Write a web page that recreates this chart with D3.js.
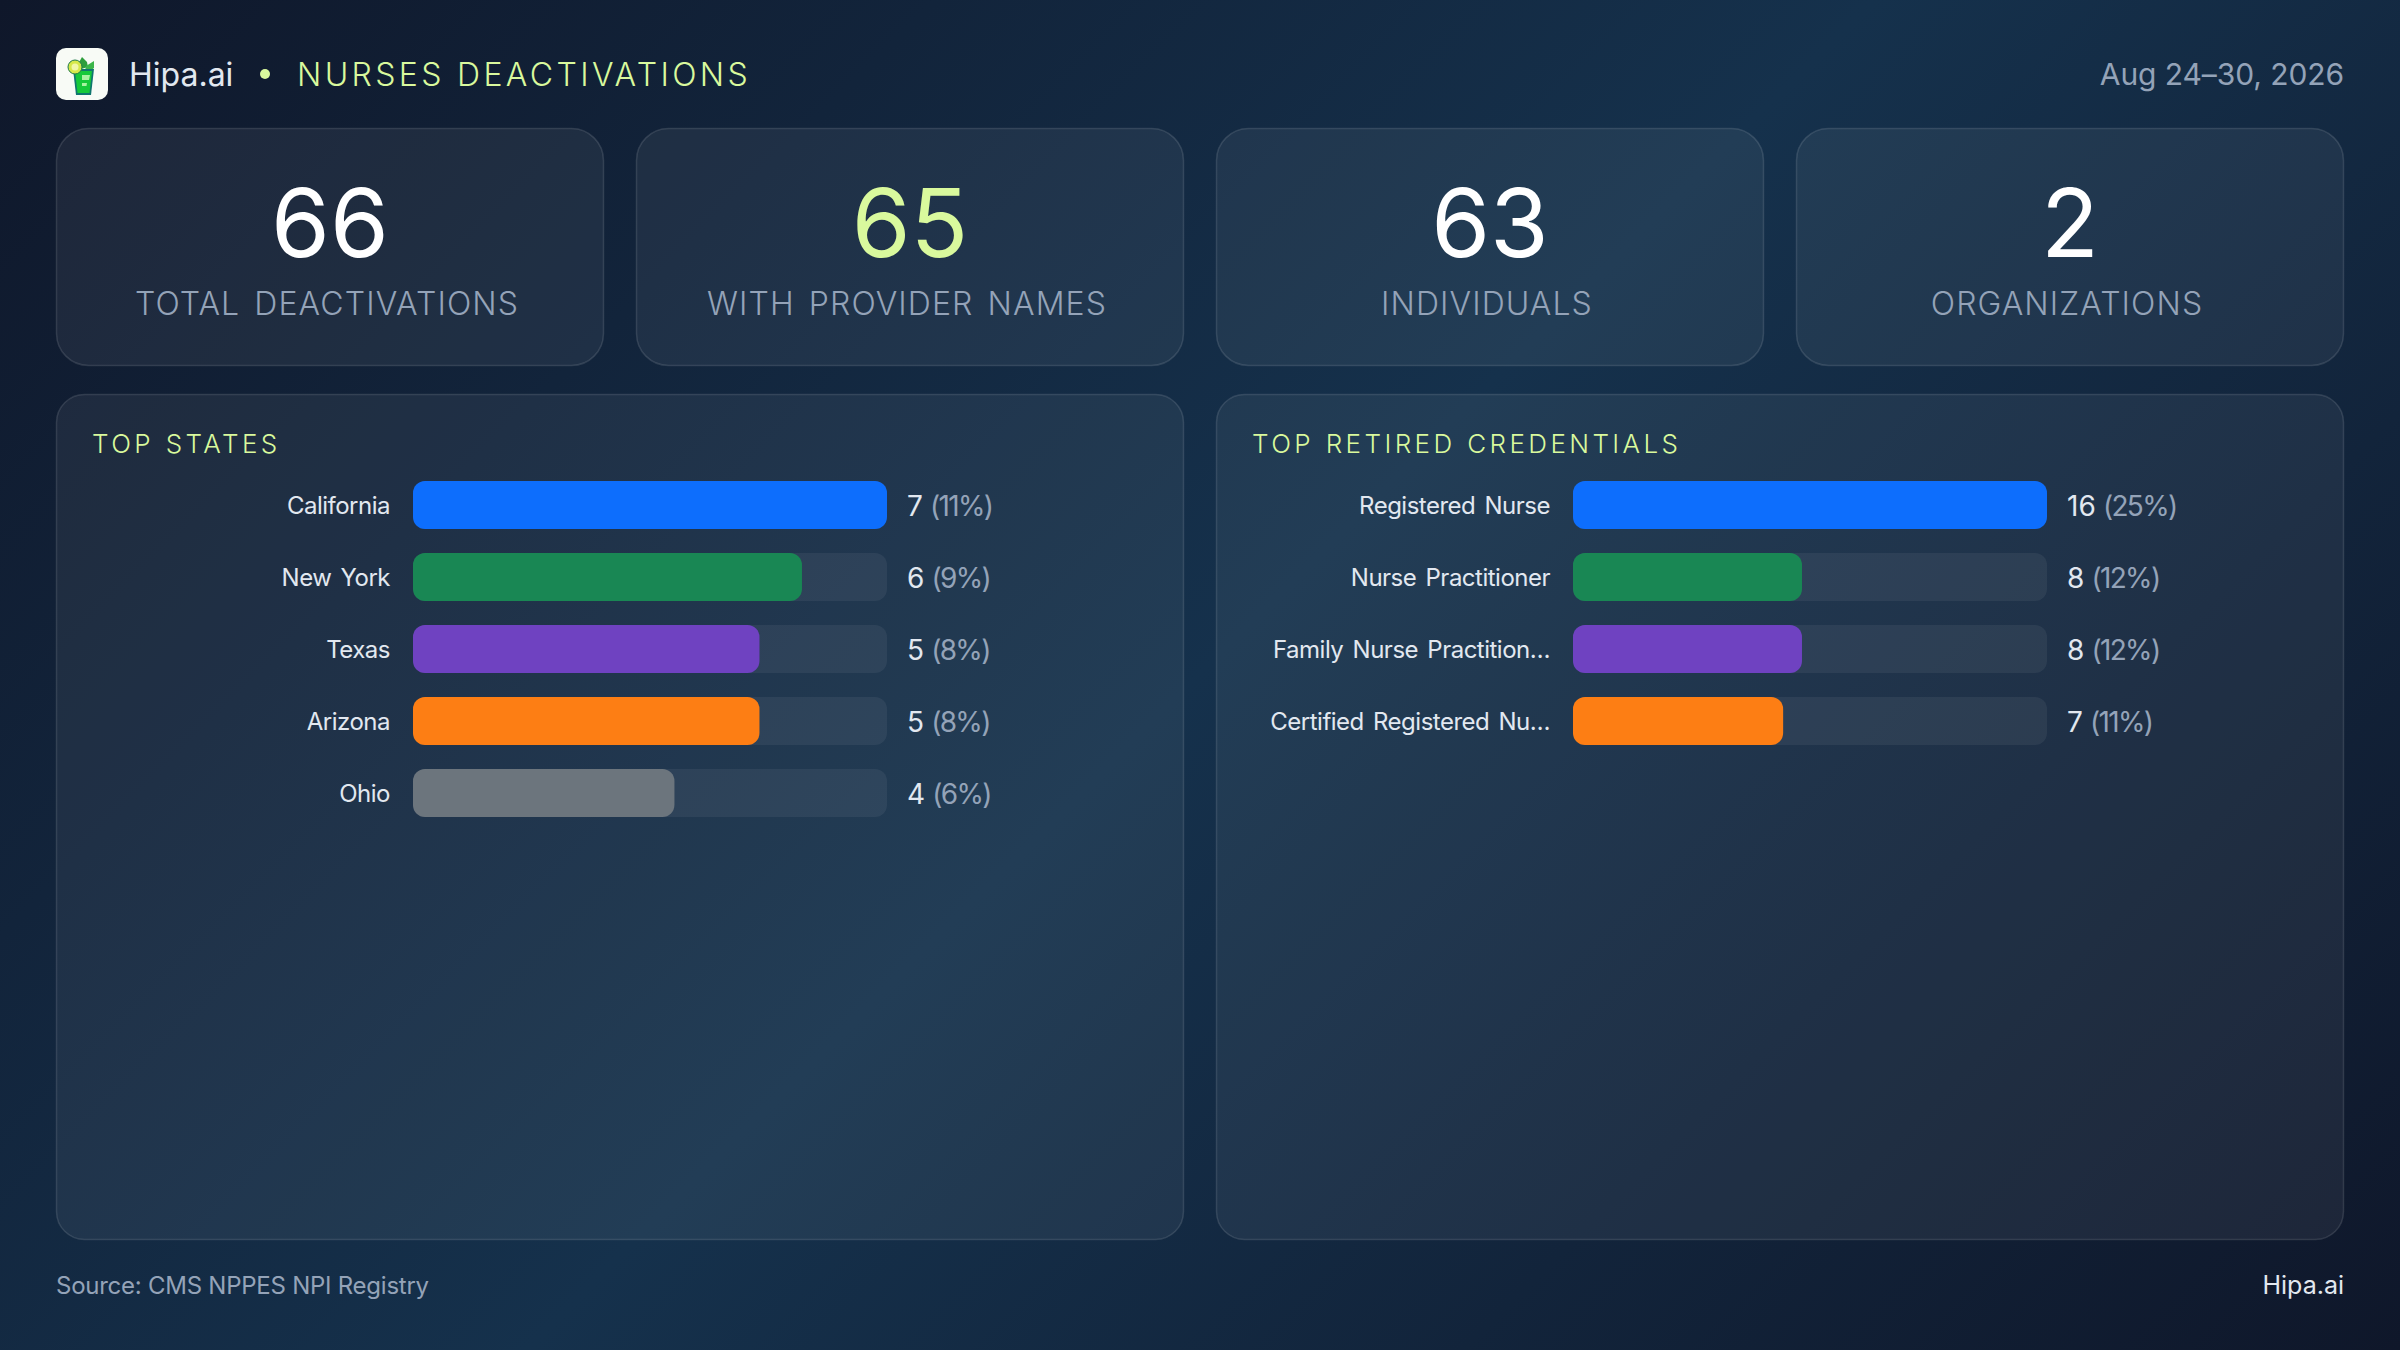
<!DOCTYPE html>
<html><head><meta charset="utf-8">
<script src="https://cdn.jsdelivr.net/npm/d3@7/dist/d3.min.js"></script>
<style>html,body{margin:0;padding:0;background:#0f1a2e;overflow:hidden}svg{display:block}text{font-family:Inter,"Liberation Sans",sans-serif;font-weight:400}.lt{font-weight:300}</style>
</head><body><div id="c"></div>
<script>
const statValues=[66,65,63,2];
const statLabels=["TOTAL DEACTIVATIONS","WITH PROVIDER NAMES","INDIVIDUALS","ORGANIZATIONS"];
const statColors=["#ffffff","#d9f99d","#ffffff","#ffffff"];
const stateNames=["California","New York","Texas","Arizona","Ohio"];
const stateCounts=[7,6,5,5,4];
const statePcts=[11,9,8,8,6];
const credNames=["Registered Nurse","Nurse Practitioner","Family Nurse Practition…","Certified Registered Nu…"];
const credCounts=[16,8,8,7];
const credPcts=[25,12,12,11];
const barColors=["#0d6efd","#198754","#6f42c1","#fd7e14","#6c757d"];

const W=2400,H=1350,M=56;
const svg=d3.select("#c").append("svg").attr("width",W).attr("height",H).attr("viewBox",`0 0 ${W} ${H}`);
const defs=svg.append("defs");
const g=defs.append("linearGradient").attr("id","bg").attr("gradientUnits","userSpaceOnUse")
  .attr("x1",262).attr("y1",-262).attr("x2",2138).attr("y2",1612);
[[0,"#0f172a"],[.5,"#15314c"],[1,"#0f172a"]].forEach(s=>g.append("stop").attr("offset",s[0]).attr("stop-color",s[1]));
svg.append("rect").attr("width",W).attr("height",H).attr("fill","url(#bg)");

// header
const logo=svg.append("g").attr("transform","translate(56,48)");
logo.append("rect").attr("width",52).attr("height",52).attr("rx",10).attr("fill","#f8fbf6");
logo.append("path").attr("d","M26 9 L31 14 L32 19 L25 21 L22 16 Z").attr("fill","#2e9e3c");
logo.append("path").attr("d","M30 18 L38 13 L38 20 L33 24 L29 23 Z").attr("fill","#3cb54a");
logo.append("path").attr("d","M17 21 H38 L35 47 H20 Z").attr("fill","#0f766e");
logo.append("path").attr("d","M19 23 H36 L33.5 45 H21.5 Z").attr("fill","#16c93a");
logo.append("path").attr("d","M26 27 H34 L33 32 H26 Z M26 35 H31 L30.5 38 H26 Z").attr("fill","#a7f3a0");
logo.append("circle").attr("cx",19).attr("cy",19).attr("r",7).attr("fill","#d6e84a").attr("stroke","#1f7a4a").attr("stroke-width",1);
logo.append("circle").attr("cx",19).attr("cy",19).attr("r",3.5).attr("fill","#f1f7a8");

svg.append("text").attr("x",129).attr("y",86).attr("font-size",32).attr("fill","#e2e8f0").text("Hipa.ai");
svg.append("circle").attr("cx",265).attr("cy",74).attr("r",5).attr("fill","#d9f99d");
svg.append("text").attr("class","lt").attr("x",297).attr("y",86).attr("font-size",32).attr("letter-spacing",3.35).attr("fill","#d9f99d").text("NURSES DEACTIVATIONS");
svg.append("text").attr("x",2344).attr("y",85).attr("text-anchor","end").attr("font-size",30).attr("letter-spacing",-0.08).attr("fill","#94a3b8").text("Aug 24–30, 2026");

// stat cards
const xCard=d3.scaleBand().domain(d3.range(statValues.length)).range([M-16,W-M+16]);
const cards=svg.selectAll("g.card").data(statValues).join("g").attr("class","card")
  .attr("transform",(d,i)=>`translate(${xCard(i)+16},128)`);
const cw=xCard.bandwidth()-32;
cards.append("rect").attr("x",.5).attr("y",.5).attr("width",cw-1).attr("height",237).attr("rx",32)
  .attr("fill","rgba(255,255,255,0.06)").attr("stroke","rgba(255,255,255,0.12)").attr("stroke-width",1.5);
cards.append("text").attr("x",cw/2).attr("y",129).attr("text-anchor","middle").attr("font-size",95)
  .attr("fill",(d,i)=>statColors[i]).text(d=>d);
cards.append("text").attr("class","lt").attr("x",cw/2-3).attr("y",187).attr("text-anchor","middle").attr("font-size",32)
  .attr("letter-spacing",1.1).attr("word-spacing",4).attr("fill","#94a3b8").text((d,i)=>statLabels[i]);

// panels
function panel(px,title,names,counts,pcts){
  const pw=1128;
  const p=svg.append("g").attr("transform",`translate(${px},394)`);
  p.append("rect").attr("x",.5).attr("y",.5).attr("width",pw-1).attr("height",845).attr("rx",28)
    .attr("fill","rgba(255,255,255,0.06)").attr("stroke","rgba(255,255,255,0.12)").attr("stroke-width",1.5);
  p.append("text").attr("class","lt").attr("x",36).attr("y",59).attr("font-size",26).attr("letter-spacing",3.4).attr("word-spacing",1).attr("fill","#d9f99d").text(title);
  const x=d3.scaleLinear().domain([-0.15,d3.max(pcts)]).range([0,474]);
  const y=d3.scaleBand().domain(names).range([75,75+72*names.length]).paddingInner(1/3).paddingOuter(1/6);
  const rows=p.selectAll("g.row").data(names).join("g").attr("class","row").attr("transform",d=>`translate(0,${y(d)})`);
  rows.append("rect").attr("x",357).attr("width",x.range()[1]).attr("height",y.bandwidth()).attr("rx",12).attr("fill","rgba(255,255,255,0.06)");
  rows.append("rect").attr("x",357).attr("width",(d,i)=>x(pcts[i])).attr("height",y.bandwidth()).attr("rx",12).attr("fill",(d,i)=>barColors[i]);
  rows.append("text").attr("x",334).attr("y",33).attr("text-anchor","end").attr("font-size",24).attr("letter-spacing",-0.5).attr("word-spacing",3).attr("fill","#e2e8f0").text(d=>d);
  const v=rows.append("text").attr("x",851).attr("y",34.5).attr("font-size",28).attr("fill","#94a3b8");
  v.append("tspan").attr("fill","#e2e8f0").text((d,i)=>counts[i]);
  v.append("tspan").attr("letter-spacing",-1.7).attr("dx",1).text((d,i)=>` (${pcts[i]}%)`);
}
panel(56,"TOP STATES",stateNames,stateCounts,statePcts);
panel(1216,"TOP RETIRED CREDENTIALS",credNames,credCounts,credPcts);

// footer
svg.append("text").attr("x",56).attr("y",1294).attr("font-size",24).attr("letter-spacing",-0.25).attr("fill","#94a3b8").text("Source: CMS NPPES NPI Registry");
svg.append("text").attr("x",2344).attr("y",1294).attr("text-anchor","end").attr("font-size",25).attr("fill","#e2e8f0").text("Hipa.ai");
</script></body></html>
